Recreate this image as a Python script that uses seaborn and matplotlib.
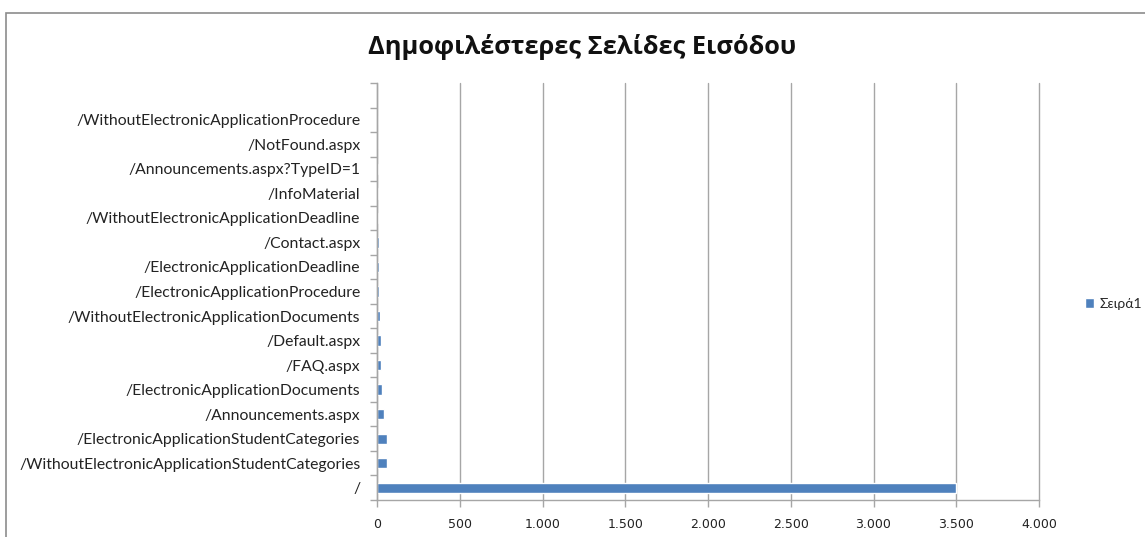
import pandas as pd
import matplotlib
matplotlib.use("Agg")
import matplotlib.pyplot as plt
from matplotlib.patches import Rectangle
from matplotlib.ticker import FuncFormatter, FixedLocator
import seaborn as sns

# landing pages, top to bottom as drawn
pages = [
    "/WithoutElectronicApplicationProcedure",
    "/NotFound.aspx",
    "/Announcements.aspx?TypeID=1",
    "/InfoMaterial",
    "/WithoutElectronicApplicationDeadline",
    "/Contact.aspx",
    "/ElectronicApplicationDeadline",
    "/ElectronicApplicationProcedure",
    "/WithoutElectronicApplicationDocuments",
    "/Default.aspx",
    "/FAQ.aspx",
    "/ElectronicApplicationDocuments",
    "/Announcements.aspx",
    "/ElectronicApplicationStudentCategories",
    "/WithoutElectronicApplicationStudentCategories",
    "/",
]
entrances = [2, 3, 4, 5, 9, 10, 11, 12, 20, 26, 27, 28, 42, 58, 60, 3497]
series_name = "Σειρά1"
title = "Δημοφιλέστερες Σελίδες Εισόδου"

BAR_COLOR = "#4F81BD"
GRID_COLOR = "#A6A6A6"

df = pd.DataFrame({"page": pages, "entrances": entrances, "series": series_name})

sns.set_style("white")
plt.rcParams["font.family"] = ["DejaVu Sans"]

fig = plt.figure(figsize=(11.45, 5.37), dpi=100)
ax = fig.add_axes([377 / 1145, 1 - 500 / 537, (1039 - 377) / 1145, (500 - 83) / 537])

sns.barplot(data=df, x="entrances", y="page", hue="series", orient="h",
            palette=[BAR_COLOR], dodge=False, width=0.42, ax=ax, saturation=1)

n = len(pages)
ax.set_xlim(0, 4000)
ax.set_ylim(n - 0.5, -1.5)
ax.set_xticks(range(0, 4001, 500))
ax.xaxis.set_major_formatter(FuncFormatter(lambda v, p: f"{int(v):,}".replace(",", ".")))
ax.grid(axis="x", color=GRID_COLOR, linewidth=1)
ax.set_axisbelow(True)
for gl in ax.get_xgridlines():
    gl.set_clip_on(False)

# category labels at centres, tick marks at boundaries
ax.set_yticks(range(n))
ax.set_yticklabels(pages, fontfamily="Lato", fontsize=11.3, color="#222222")
ax.tick_params(axis="y", which="major", length=0, pad=12)
ax.yaxis.set_minor_locator(FixedLocator([i - 0.5 for i in range(-1, n + 1)]))
ax.tick_params(axis="y", which="minor", length=5, width=1, color=GRID_COLOR, left=True)
ax.tick_params(axis="x", length=5, width=1, color=GRID_COLOR, labelsize=9,
               labelcolor="#222222", pad=8, bottom=True)

for s in ["top", "right"]:
    ax.spines[s].set_visible(False)
for s in ["left", "bottom"]:
    ax.spines[s].set_color(GRID_COLOR)
    ax.spines[s].set_linewidth(1)

ax.set_xlabel("")
ax.set_ylabel("")

leg = ax.legend(loc="center left", bbox_to_anchor=(1.05, 0.47), frameon=False,
                handlelength=0.7, handleheight=0.7, handletextpad=0.4,
                prop={"family": "Lato", "size": 10})

fig.text(0.508, 1 - 47 / 537, title, ha="center", va="center",
         fontsize=18.3, fontweight="bold", fontfamily="Open Sans", color="#111111")

# outer chart border
fig.patches.append(Rectangle((6 / 1145, -0.05), 1.2, 1 - 12.5 / 537 + 0.05,
                             transform=fig.transFigure, fill=False,
                             edgecolor="#8C8C8C", linewidth=1.2))

fig.savefig("out.png", dpi=100)
